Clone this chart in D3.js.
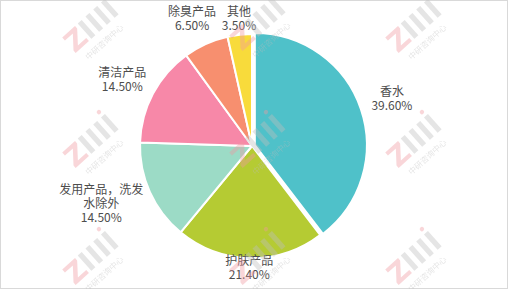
<!DOCTYPE html>
<html lang="zh">
<head>
  <meta charset="UTF-8">
  <title>pie</title>
  <style>
    body { margin: 0; overflow: hidden; background: #fff; }
    svg { display: block; font-family: "Noto Sans CJK SC", "Microsoft YaHei", sans-serif; }
  </style>
</head>
<body>
  <div class="pie-chart"></div>
  <script src="https://cdnjs.cloudflare.com/ajax/libs/d3/7.8.5/d3.min.js"></script>
  <script>
    const categories = ['香水', '护肤产品', '发用产品，洗发水除外', '清洁产品', '除臭产品', '其他'];
    const shares = [39.6, 21.4, 14.5, 14.5, 6.5, 3.5];
    const labelLines = [['香水'], ['护肤产品'], ['发用产品，洗发', '水除外'], ['清洁产品'], ['除臭产品'], ['其他']];
    const colors = ['#4fc1c9', '#b5cb33', '#9cdbc6', '#f788a8', '#f78f6f', '#f8db3b'];

    const width = 508, height = 289;
    const cx = 252, cy = 146, radius = 112;

    // excel's "best fit" labels don't sit on one ring, so nudge a few
    const nudge = {
      '香水': [2, 0],
      '护肤产品': [0, -24],
      '发用产品，洗发水除外': [-18, -2],
      '清洁产品': [-1, 2],
      '除臭产品': [0, 5],
      '其他': [3, 18]
    };

    const svg = d3.select('.pie-chart')
      .append('svg')
      .attr('width', width)
      .attr('height', height);

    svg.append('rect')
      .attr('x', 0.5).attr('y', 0.5)
      .attr('width', width - 1).attr('height', height - 1)
      .attr('fill', '#fff')
      .attr('stroke', '#d9d9d9');

    const rows = categories.map((c, i) => ({ name: c, value: shares[i], lines: labelLines[i], color: colors[i] }));

    const pie = d3.pie().sort(null).value(d => d.value);
    const arcs = pie(rows);

    const arc = d3.arc().innerRadius(0).outerRadius(radius);
    const labelArc = d3.arc().innerRadius(radius * 1.3).outerRadius(radius * 1.3);

    const g = svg.append('g').attr('transform', `translate(${cx},${cy})`);

    g.selectAll('path')
      .data(arcs)
      .join('path')
      .attr('d', arc)
      .attr('fill', d => d.data.color)
      .attr('stroke', '#fff')
      .attr('stroke-width', 2)
      .attr('stroke-linejoin', 'round')
      .attr('transform', (d, i) => {
        if (i !== 0) return null;
        const mid = (d.startAngle + d.endAngle) / 2;
        return `translate(${3 * Math.sin(mid)},${-3 * Math.cos(mid)})`;
      });

    const lineH = 14;
    const labels = g.selectAll('text.lbl')
      .data(arcs)
      .join('text')
      .attr('class', 'lbl')
      .attr('text-anchor', 'middle')
      .attr('font-size', 12)
      .attr('fill', '#4d4d4d')
      .attr('transform', d => {
        const [x, y] = labelArc.centroid(d);
        const n = nudge[d.data.name] || [0, 0];
        return `translate(${x + n[0]},${y + n[1]})`;
      });

    labels.each(function(d) {
      const lines = d.data.lines.concat([d.data.value.toFixed(2) + '%']);
      const top = -(lines.length - 1) * lineH / 2;
      d3.select(this).selectAll('tspan')
        .data(lines)
        .join('tspan')
        .attr('x', 0)
        .attr('y', (l, k) => top + k * lineH)
        .attr('dy', '0.35em')
        .text(l => l);
    });

    // faint watermark grid on top of everything
    const marks = [[90, 32], [257, 30], [413, 32], [90, 147], [257, 147], [413, 147], [90, 264], [257, 264], [413, 264]];
    const wm = svg.append('g').attr('opacity', 0.4).attr('pointer-events', 'none');
    marks.forEach(([x, y]) => {
      const m = wm.append('g').attr('transform', `translate(${x},${y}) rotate(-42)`);
      m.append('text')
        .attr('x', -26).attr('y', 6)
        .attr('font-size', 28).attr('font-weight', 'bold')
        .attr('font-family', 'DejaVu Sans')
        .attr('fill', '#f09aa0')
        .text('Z');
      m.append('text')
        .attr('x', -6).attr('y', 6)
        .attr('font-size', 28).attr('font-weight', 'bold')
        .attr('font-family', 'DejaVu Sans')
        .attr('fill', '#bdbdbd')
        .text('IIII');
      m.append('circle')
        .attr('cx', 30).attr('cy', -20).attr('r', 2.2)
        .attr('fill', '#f09aa0');
      m.append('text')
        .attr('x', 4).attr('y', 20)
        .attr('text-anchor', 'middle')
        .attr('font-size', 8)
        .attr('fill', '#bdbdbd')
        .text('中研咨询中心');
    });
  </script>
</body>
</html>
